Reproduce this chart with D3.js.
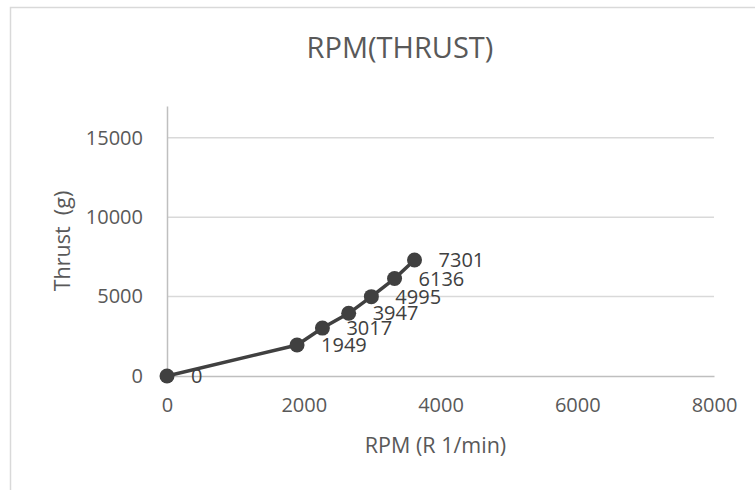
<!DOCTYPE html>
<html>
<head>
<meta charset="utf-8">
<script src="https://cdn.jsdelivr.net/npm/d3@7"></script>
<style>
  body { margin: 0; background: #fff; }
  svg { display: block; font-family: "Open Sans", sans-serif; }
</style>
</head>
<body>
<script>
// data
const rpm = [0, 1902, 2273, 2657, 2989, 3328, 3620];
const thrust = [0, 1949, 3017, 3947, 4995, 6136, 7301];
const xTicks = [0, 2000, 4000, 6000, 8000];
const yTicks = [0, 5000, 10000, 15000];

const width = 755, height = 490;
const margin = {top: 106, right: 41, bottom: 114, left: 167};

const svg = d3.select("body").append("svg")
    .attr("width", width)
    .attr("height", height);

svg.append("rect")
    .attr("width", width).attr("height", height)
    .attr("fill", "#fff");

// chart area border (runs off the right and bottom of the picture)
svg.append("rect")
    .attr("x", 10.5).attr("y", 7.5)
    .attr("width", 900).attr("height", 600)
    .attr("fill", "none")
    .attr("stroke", "#d9d9d9")
    .attr("stroke-width", 1.5);

const x = d3.scaleLinear()
    .domain([0, 8000])
    .range([margin.left, width - margin.right]);

const y = d3.scaleLinear()
    .domain([0, 17000])
    .range([height - margin.bottom, margin.top]);

// gridlines
svg.append("g")
    .selectAll("line")
    .data(yTicks.filter(d => d > 0))
    .join("line")
      .attr("x1", x(0)).attr("x2", x(8000))
      .attr("y1", d => y(d)).attr("y2", d => y(d))
      .attr("stroke", "#d9d9d9")
      .attr("stroke-width", 1.5);

// axes
svg.append("g")
    .attr("transform", `translate(0,${y(0)})`)
    .call(d3.axisBottom(x).tickValues(xTicks).tickSize(0).tickPadding(22).tickFormat(d3.format("d")));

svg.append("g")
    .attr("transform", `translate(${x(0)},0)`)
    .call(d3.axisLeft(y).tickValues(yTicks).tickSize(0).tickPadding(24).tickFormat(d3.format("d")));

svg.selectAll(".domain")
    .attr("stroke", "#bfbfbf")
    .attr("stroke-width", 1.5);

svg.selectAll(".tick text")
    .attr("fill", "#595959")
    .style("font-size", "20px")
    .style("font-family", "'Open Sans', sans-serif");

// line + markers
const pts = rpm.map((r, i) => ({r: r, t: thrust[i]}));

svg.append("path")
    .datum(pts)
    .attr("fill", "none")
    .attr("stroke", "#404040")
    .attr("stroke-width", 3.5)
    .attr("d", d3.line().x(d => x(d.r)).y(d => y(d.t)));

svg.append("g")
    .selectAll("circle")
    .data(pts)
    .join("circle")
      .attr("cx", d => x(d.r))
      .attr("cy", d => y(d.t))
      .attr("r", 7.5)
      .attr("fill", "#404040");

// data labels (they overlap in the original too)
svg.append("g")
    .selectAll("text")
    .data(pts)
    .join("text")
      .attr("x", d => x(d.r) + 24)
      .attr("y", d => y(d.t))
      .attr("dy", "0.35em")
      .attr("fill", "#404040")
      .style("font-size", "20px")
      .text(d => d.t);

// titles
svg.append("text")
    .attr("x", 400)
    .attr("y", 58)
    .attr("text-anchor", "middle")
    .attr("fill", "#595959")
    .style("font-size", "29px")
    .text("RPM(THRUST)");

svg.append("text")
    .attr("x", (x(0) + x(8000)) / 2 - 5)
    .attr("y", 453)
    .attr("text-anchor", "middle")
    .attr("fill", "#595959")
    .style("font-size", "21.5px")
    .text("RPM (R 1/min)");

svg.append("text")
    .attr("transform", `translate(70,${(y(0) + y(17000)) / 2}) rotate(-90)`)
    .attr("text-anchor", "middle")
    .attr("fill", "#595959")
    .style("font-size", "21.5px")
    .style("white-space", "pre")
    .text("Thrust  (g)");
</script>
</body>
</html>
